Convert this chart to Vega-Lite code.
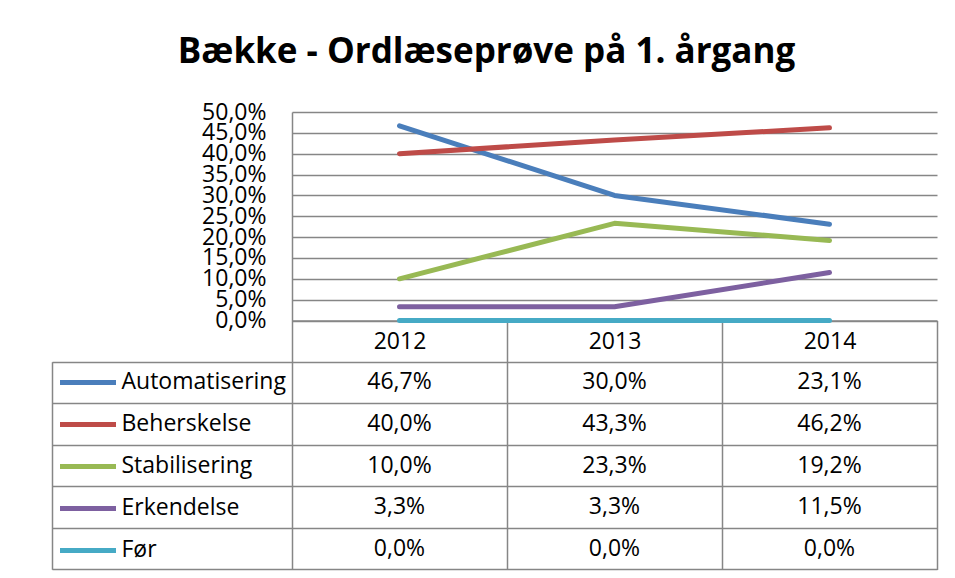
{
  "$schema": "https://vega.github.io/schema/vega-lite/v6.json",
  "width": 645,
  "height": 208.5,
  "autosize": {"type": "none"},
  "padding": {"left": 292, "top": 112, "right": 18, "bottom": 257.5},
  "background": "white",
  "title": {
    "text": "Bække - Ordlæseprøve på 1. årgang",
    "font": "Open Sans",
    "fontSize": 35,
    "fontWeight": "bold",
    "color": "black",
    "anchor": "middle",
    "frame": "group",
    "dx": -128,
    "dy": -3,
    "baseline": "alphabetic",
    "offset": 0
  },
  "data": {
    "values": [
      {"series": "Automatisering", "year": "2012", "value": 0.467},
      {"series": "Automatisering", "year": "2013", "value": 0.300},
      {"series": "Automatisering", "year": "2014", "value": 0.231},
      {"series": "Beherskelse", "year": "2012", "value": 0.400},
      {"series": "Beherskelse", "year": "2013", "value": 0.433},
      {"series": "Beherskelse", "year": "2014", "value": 0.462},
      {"series": "Stabilisering", "year": "2012", "value": 0.100},
      {"series": "Stabilisering", "year": "2013", "value": 0.233},
      {"series": "Stabilisering", "year": "2014", "value": 0.192},
      {"series": "Erkendelse", "year": "2012", "value": 0.033},
      {"series": "Erkendelse", "year": "2013", "value": 0.033},
      {"series": "Erkendelse", "year": "2014", "value": 0.115},
      {"series": "Før", "year": "2012", "value": 0.0},
      {"series": "Før", "year": "2013", "value": 0.0},
      {"series": "Før", "year": "2014", "value": 0.0}
    ]
  },
  "config": {
    "locale": {"number": {"decimal": ",", "thousands": ".", "grouping": [3], "currency": ["", " kr."]}},
    "view": {"stroke": null},
    "font": "Open Sans"
  },
  "layer": [
    {
      "mark": {"type": "line", "strokeWidth": 5, "strokeCap": "round", "strokeJoin": "round"},
      "encoding": {
        "x": {
          "field": "year",
          "type": "ordinal",
          "bandPosition": 0.5,
          "scale": {"type": "band", "domain": ["2012", "2013", "2014"], "paddingInner": 0, "paddingOuter": 0},
          "axis": {
            "orient": "bottom",
            "title": null,
            "domain": true,
            "domainColor": "#868686",
            "domainWidth": 1.5,
            "ticks": true,
            "tickBand": "extent",
            "tickSize": 249,
            "tickColor": "#868686",
            "tickWidth": 1.5,
            "labelFont": "Open Sans",
            "labelFontSize": 23,
            "labelColor": "black",
            "labelBaseline": "middle",
            "labelPadding": -228.4,
            "labelAngle": 0,
            "grid": false
          }
        },
        "y": {
          "field": "value",
          "type": "quantitative",
          "scale": {"domain": [0, 0.5]},
          "axis": {
            "orient": "left",
            "title": null,
            "values": [0, 0.05, 0.1, 0.15, 0.2, 0.25, 0.3, 0.35, 0.4, 0.45, 0.5],
            "format": ".1%",
            "labelFont": "Open Sans",
            "labelFontSize": 23,
            "labelColor": "black",
            "labelPadding": 26,
            "labelBaseline": "middle",
            "labelOverlap": false,
            "labelFlush": false,
            "ticks": false,
            "domain": true,
            "domainColor": "#868686",
            "domainWidth": 1.5,
            "grid": true,
            "gridColor": "#868686",
            "gridWidth": 1.3
          }
        },
        "color": {
          "field": "series",
          "type": "nominal",
          "scale": {
            "domain": ["Automatisering", "Beherskelse", "Stabilisering", "Erkendelse", "Før"],
            "range": ["#4A7EBB", "#BE4B48", "#98B954", "#7D60A0", "#46AAC5"]
          },
          "legend": {
            "orient": "none",
            "legendX": -234.5,
            "legendY": 249.7,
            "title": null,
            "symbolType": "stroke",
            "symbolSize": 3136,
            "symbolStrokeWidth": 5,
            "labelFont": "Open Sans",
            "labelFontSize": 23,
            "labelColor": "black",
            "labelOffset": 3,
            "labelLimit": 300,
            "rowPadding": 0,
            "clipHeight": 41.52,
            "padding": 0,
            "offset": 0
          }
        }
      }
    },
    {
      "mark": {"type": "text", "font": "Open Sans", "fontSize": 23, "color": "black", "baseline": "middle", "align": "center"},
      "encoding": {
        "x": {"field": "year", "type": "ordinal", "bandPosition": 0.5},
        "y": {
          "field": "series",
          "type": "nominal",
          "bandPosition": 0.5,
          "scale": {
            "type": "band",
            "domain": ["Automatisering", "Beherskelse", "Stabilisering", "Erkendelse", "Før"],
            "range": [249.7, 457.3],
            "paddingInner": 0,
            "paddingOuter": 0
          },
          "axis": {
            "orient": "right",
            "offset": -885,
            "title": null,
            "labels": false,
            "grid": false,
            "domain": true,
            "domainColor": "#868686",
            "domainWidth": 1.5,
            "ticks": true,
            "tickBand": "extent",
            "tickSize": 885,
            "tickColor": "#868686",
            "tickWidth": 1.5
          }
        },
        "text": {"field": "value", "type": "quantitative", "format": ".1%"}
      }
    }
  ],
  "resolve": {"scale": {"y": "independent"}, "axis": {"y": "independent"}}
}
